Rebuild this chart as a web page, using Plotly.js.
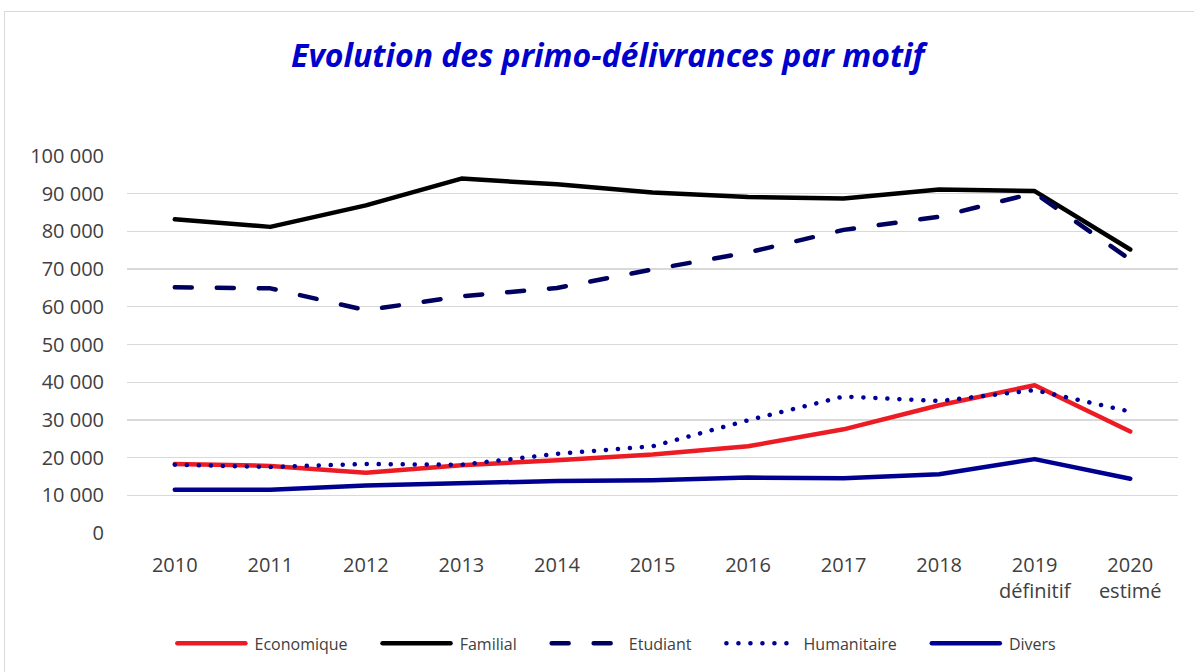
<!DOCTYPE html>
<html><head><meta charset="utf-8">
<script src="https://cdn.plot.ly/plotly-3.0.1.min.js"></script>
<style>
html,body{margin:0;padding:0;background:#fff;overflow:hidden;}
#frame{position:absolute;left:4px;top:11px;width:1300px;height:800px;border:1px solid #d9d9d9;box-sizing:border-box;pointer-events:none;z-index:5;}
#chart{position:absolute;left:0;top:0;width:1194px;height:672px;}
.scatterlayer path.js-line{stroke-linecap:round;stroke-linejoin:round;}
.legend path.js-line{stroke-linecap:round;}
</style>
</head><body>
<div id="chart"></div>
<div id="frame"></div>
<script>
const years = ["2010","2011","2012","2013","2014","2015","2016","2017","2018","2019<br>définitif","2020<br>estimé"];
const seriesNames = ["Economique","Familial","Etudiant","Humanitaire","Divers"];
const economique = [18300,17800,16000,18000,19300,20800,23000,27500,33900,39200,26900];
const familial   = [83200,81200,86900,94000,92500,90300,89100,88700,91100,90700,75200];
const etudiant   = [65200,64900,59100,62800,65000,69900,74400,80400,83900,90200,72500];
const humanitaire= [18100,17500,18300,18100,21000,23000,29900,36200,35000,37900,32200];
const divers     = [11500,11500,12600,13200,13800,14000,14700,14500,15600,19600,14400];

const pad = s => "\u00A0" + s + "\u00A0\u00A0\u00A0\u00A0\u00A0\u00A0";
const styles = [
  {color:"#ED1C24", width:4.5},
  {color:"#000000", width:4.5},
  {color:"#00005E", width:4.5, dash:"17px,25px"},
  {color:"#000099", width:4.5, dash:"0.1px,11.9px"},
  {color:"#000090", width:4.5}
];
const values = [economique, familial, etudiant, humanitaire, divers];
const traces = values.map((v,i) => ({
  x:years, y:v, name:pad(seriesNames[i]), type:"scatter", mode:"lines", hoverinfo:"skip", line:styles[i]
}));

const tf = {family:"Open Sans, Liberation Sans, sans-serif", size:20, color:"#404040"};
const layout = {
  width:1194, height:672,
  margin:{l:127, r:16, t:156, b:139},
  paper_bgcolor:"#fff", plot_bgcolor:"#fff",
  separators:", ",
  title:{text:"<b><i>Evolution des primo-délivrances par motif</i></b>",
    font:{family:"Open Sans, Liberation Sans, sans-serif", size:32, color:"#0000CC"},
    x:0.509, xanchor:"center", y:0.917, yanchor:"middle"},
  xaxis:{type:"category", range:[-0.5,10.5], showgrid:false, zeroline:false, showline:false,
    ticks:"", tickfont:tf, ticklabelstandoff:18, fixedrange:true},
  yaxis:{range:[0,100000], dtick:10000, tickformat:",d", showgrid:true, gridcolor:"#d9d9d9", gridwidth:1.3,
    zeroline:false, showline:false, ticks:"", tickfont:tf, ticklabelstandoff:22, fixedrange:true},
  showlegend:true,
  legend:{orientation:"h", x:0.478, xanchor:"center", y:-0.293, yanchor:"middle",
    font:{family:"Liberation Sans Narrow, Open Sans, sans-serif", size:16, color:"#404040"},
    itemwidth:68}
};
Plotly.newPlot("chart", traces, layout, {displayModeBar:false, staticPlot:true});
</script>
</body></html>
